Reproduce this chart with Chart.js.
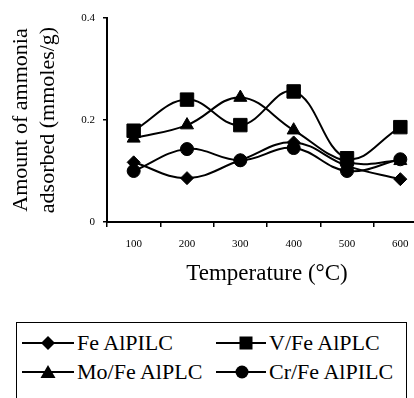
<!DOCTYPE html>
<html>
<head>
<meta charset="utf-8">
<script src="https://cdn.jsdelivr.net/npm/chart.js@4"></script>
<style>
  html, body { margin: 0; padding: 0; background: #fff; overflow: hidden; }
  body { width: 414px; height: 398px; position: relative; font-family: "Liberation Serif", "Times New Roman", serif; }
  #wrap { position: absolute; left: 0; top: 0; width: 440px; height: 300px; }
  #legend { position: absolute; left: 16px; top: 322px; width: 389px; height: 100px; border: 1.5px solid #000; }
  .item { position: absolute; height: 24px; display: flex; align-items: center; font-size: 22px; color: #000; white-space: nowrap; }
  .item svg { margin-right: 3px; }
</style>
</head>
<body>
<div id="wrap"><canvas id="chart" width="440" height="300"></canvas></div>
<div id="legend"></div>
<script>
// x categories and the four series (mmoles/g)
const temps = ["100", "200", "300", "400", "500", "600"];
const feAlpilc = [0.117, 0.086, 0.121, 0.156, 0.110, 0.084];
const vFeAlplc = [0.179, 0.240, 0.190, 0.256, 0.125, 0.186];
const moFeAlplc = [0.164, 0.190, 0.244, 0.180, 0.118, 0.120];
const crFeAlpilc = [0.100, 0.143, 0.121, 0.145, 0.100, 0.123];
const yTicks = [0, 0.2, 0.4];

const seriesNames = ["Fe AlPILC", "V/Fe AlPLC", "Mo/Fe AlPLC", "Cr/Fe AlPILC"];
const serif = '"Liberation Serif", "Times New Roman", serif';

function series(label, data, style, radius) {
  return {
    label, data,
    borderColor: "#000",
    backgroundColor: "#000",
    borderWidth: 2,
    pointStyle: style,
    pointRadius: radius,
    pointBorderWidth: 1,
    tension: 0.4
  };
}

const chart = new Chart(document.getElementById("chart"), {
  type: "line",
  data: {
    labels: temps,
    datasets: [
      series(seriesNames[0], feAlpilc, "rectRot", 6.5),
      series(seriesNames[1], vFeAlplc, "rect", 9.5),
      series(seriesNames[2], moFeAlplc, "triangle", 7.5),
      series(seriesNames[3], crFeAlpilc, "circle", 6.5)
    ]
  },
  options: {
    responsive: false,
    animation: false,
    layout: { padding: { top: 18, left: 0, right: 13, bottom: 0 } },
    plugins: { legend: { display: false }, tooltip: { enabled: false } },
    scales: {
      x: {
        offset: true,
        grid: { offset: true, drawOnChartArea: false, tickLength: 5, color: "#000", lineWidth: 1.5 },
        border: { display: true, color: "#000", width: 2 },
        ticks: { color: "#000", padding: 11, font: { family: serif, size: 11 } },
        title: {
          display: true, text: "Temperature (°C)", color: "#000",
          font: { family: serif, size: 23 }, padding: { top: 0, bottom: 12 }
        },
        afterFit: (s) => { s.height = 78; }
      },
      y: {
        min: 0, max: 0.4,
        afterBuildTicks: (s) => { s.ticks = yTicks.map(v => ({ value: v })); },
        grid: { drawOnChartArea: false, tickLength: 4, color: "#000", lineWidth: 1.5 },
        border: { display: true, color: "#000", width: 2 },
        ticks: { color: "#000", padding: 8, font: { family: serif, size: 11 },
                 callback: (v) => String(v) },
        title: {
          display: true, text: ["Amount of ammonia", "adsorbed (mmoles/g)"], color: "#000",
          font: { family: serif, size: 22, lineHeight: 1.23 }, padding: { top: 7.5, bottom: 0 }
        },
        afterFit: (s) => { s.width = 107; }
      }
    }
  }
});

// legend: line-marker-line sample followed by the name
const markers = [
  (c) => `<polygon points="${c},3 ${c + 7},10 ${c},17 ${c - 7},10" fill="#000"/>`,
  (c) => `<rect x="${c - 6.5}" y="3.5" width="13" height="13" fill="#000"/>`,
  (c) => `<polygon points="${c},3 ${c + 7.5},16 ${c - 7.5},16" fill="#000"/>`,
  (c) => `<circle cx="${c}" cy="10" r="6.5" fill="#000"/>`
];
// [left, top, sample width, marker centre]
const legendPos = [[5, 7.5, 52, 26], [199, 7.5, 50, 30], [5, 36.5, 52, 26], [199, 36.5, 50, 26]];
const legend = document.getElementById("legend");
seriesNames.forEach((name, i) => {
  const [left, top, w, c] = legendPos[i];
  const el = document.createElement("div");
  el.className = "item";
  el.style.left = left + "px";
  el.style.top = top + "px";
  el.innerHTML = `<svg width="${w}" height="20"><line x1="0" y1="10" x2="${w}" y2="10" stroke="#000" stroke-width="2"/>` +
    markers[i](c) + '</svg><span>' + name + '</span>';
  legend.appendChild(el);
});
</script>
</body>
</html>
